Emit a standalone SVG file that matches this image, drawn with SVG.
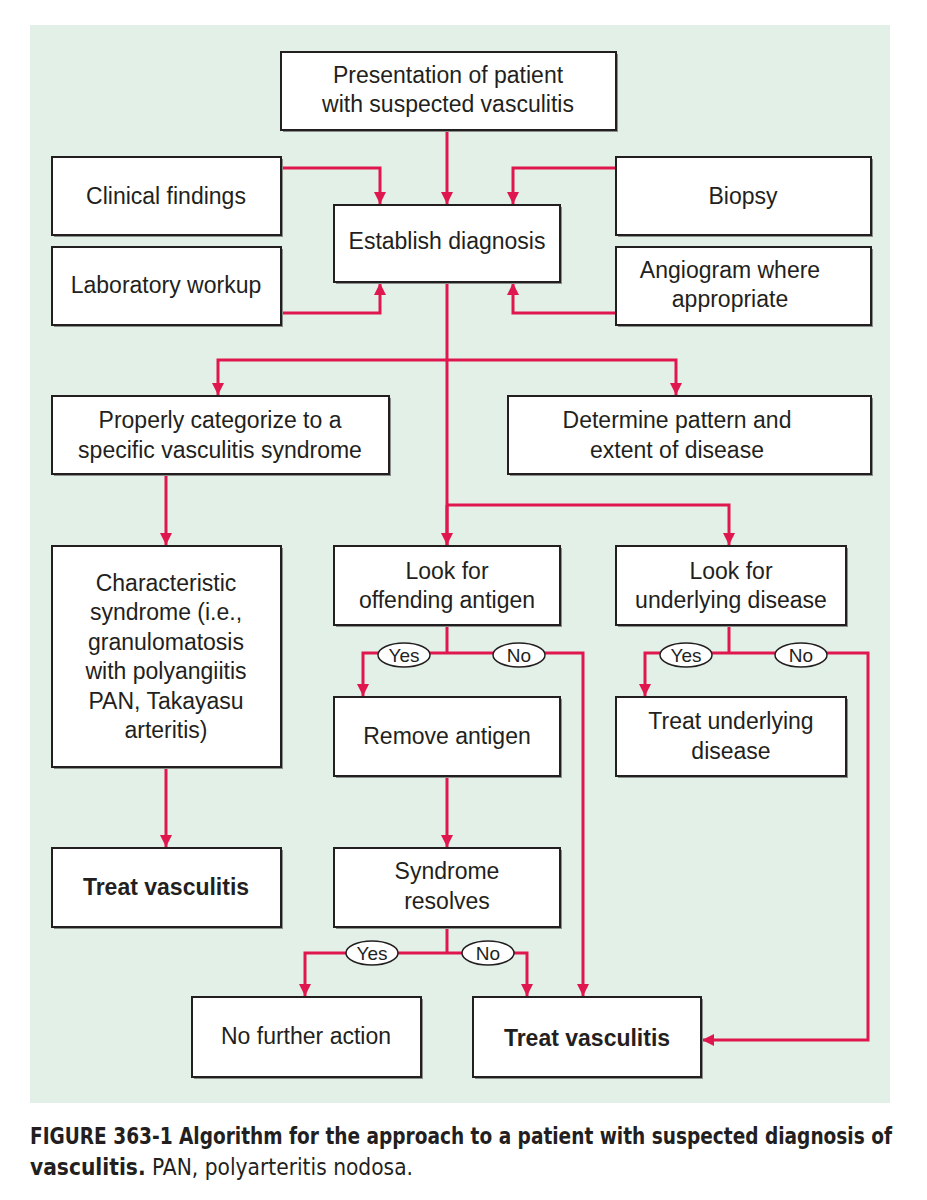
<svg xmlns="http://www.w3.org/2000/svg" width="927" height="1200" viewBox="0 0 927 1200">
<style>
.b{fill:#fff;stroke:#231f20;stroke-width:2}
.s{fill:#8a8f8c}
.t{font-family:"Liberation Sans",Arial,sans-serif;font-size:23px;fill:#231f20;text-anchor:middle}
.bd{font-weight:bold}
.c{fill:none;stroke:#e0174f;stroke-width:3}
.o{fill:#fff;stroke:#231f20;stroke-width:1.5}
.ot{font-family:"Liberation Sans",Arial,sans-serif;font-size:19px;fill:#231f20;text-anchor:middle}
.cap{font-family:"DejaVu Sans Condensed","Liberation Sans",sans-serif;font-size:23px;fill:#231f20}
</style>
<defs><marker id="a" viewBox="0 0 10 10" refX="10" refY="5" markerWidth="4" markerHeight="4" markerUnits="strokeWidth" orient="auto"><path d="M0,0L10,5L0,10z" fill="#e0174f"/></marker></defs>
<rect width="927" height="1200" fill="#fff"/>
<rect x="30" y="25" width="860" height="1078" fill="#e2f0e7"/>
<g id="connectors">
<path class="c" marker-end="url(#a)" d="M447,130V204"/>
<path class="c" marker-end="url(#a)" d="M281,168H380V204"/>
<path class="c" marker-end="url(#a)" d="M616,168H513V204"/>
<path class="c" marker-end="url(#a)" d="M281,313H380V283"/>
<path class="c" marker-end="url(#a)" d="M616,313H513V283"/>
<path class="c" d="M447,282V546"/>
<path class="c" marker-end="url(#a)" d="M447,360H218V395"/>
<path class="c" marker-end="url(#a)" d="M447,360H676V395"/>
<path class="c" marker-end="url(#a)" d="M447,505H729V545"/>
<path class="c" marker-end="url(#a)" d="M447,505V545"/>
<path class="c" marker-end="url(#a)" d="M166,474V545"/>
<path class="c" marker-end="url(#a)" d="M166,767V847"/>
<path class="c" d="M447,625V653"/>
<path class="c" marker-end="url(#a)" d="M447,653H363V696"/>
<path class="c" marker-end="url(#a)" d="M447,653H583V996"/>
<path class="c" d="M729,625V653"/>
<path class="c" marker-end="url(#a)" d="M729,653H645V696"/>
<path class="c" marker-end="url(#a)" d="M729,653H868V1040H702"/>
<path class="c" marker-end="url(#a)" d="M447,776V847"/>
<path class="c" d="M447,927V953"/>
<path class="c" marker-end="url(#a)" d="M447,953H305V996"/>
<path class="c" marker-end="url(#a)" d="M447,953H527V996"/>
<ellipse class="o" cx="404" cy="655" rx="26" ry="12"/><text class="ot" x="404" y="662">Yes</text>
<ellipse class="o" cx="519" cy="655" rx="26" ry="12"/><text class="ot" x="519" y="662">No</text>
<ellipse class="o" cx="686" cy="655" rx="26" ry="12"/><text class="ot" x="686" y="662">Yes</text>
<ellipse class="o" cx="801" cy="655" rx="26" ry="12"/><text class="ot" x="801" y="662">No</text>
<ellipse class="o" cx="372" cy="953" rx="26" ry="12"/><text class="ot" x="372" y="960">Yes</text>
<ellipse class="o" cx="488" cy="953" rx="26" ry="12"/><text class="ot" x="488" y="960">No</text>
</g>
<g id="n1"><rect class="s" x="283" y="54" width="335" height="78"/><rect class="b" x="281" y="52" width="335" height="78"/><text class="t" x="448" y="83">Presentation of patient</text><text class="t" x="448" y="112">with suspected vasculitis</text></g>
<g id="n2"><rect class="s" x="54" y="159" width="229" height="78"/><rect class="b" x="52" y="157" width="229" height="78"/><text class="t" x="166" y="204">Clinical findings</text></g>
<g id="n3"><rect class="s" x="336" y="207" width="226" height="77"/><rect class="b" x="334" y="205" width="226" height="77"/><text class="t" x="447" y="249">Establish diagnosis</text></g>
<g id="n4"><rect class="s" x="618" y="159" width="255" height="78"/><rect class="b" x="616" y="157" width="255" height="78"/><text class="t" x="743" y="204">Biopsy</text></g>
<g id="n5"><rect class="s" x="54" y="249" width="229" height="78"/><rect class="b" x="52" y="247" width="229" height="78"/><text class="t" x="166" y="293">Laboratory workup</text></g>
<g id="n6"><rect class="s" x="618" y="249" width="255" height="78"/><rect class="b" x="616" y="247" width="255" height="78"/><text class="t" x="730" y="278">Angiogram where</text><text class="t" x="730" y="307">appropriate</text></g>
<g id="n7"><rect class="s" x="54" y="398" width="337" height="78"/><rect class="b" x="52" y="396" width="337" height="78"/><text class="t" x="220" y="428">Properly categorize to a</text><text class="t" x="220" y="458">specific vasculitis syndrome</text></g>
<g id="n8"><rect class="s" x="510" y="398" width="363" height="78"/><rect class="b" x="508" y="396" width="363" height="78"/><text class="t" x="677" y="428">Determine pattern and</text><text class="t" x="677" y="458">extent of disease</text></g>
<g id="n9"><rect class="s" x="54" y="548" width="229" height="221"/><rect class="b" x="52" y="546" width="229" height="221"/><text class="t" x="166" y="591">Characteristic</text><text class="t" x="166" y="620">syndrome (i.e.,</text><text class="t" x="166" y="650">granulomatosis</text><text class="t" x="166" y="679">with polyangiitis</text><text class="t" x="166" y="709">PAN, Takayasu</text><text class="t" x="166" y="738">arteritis)</text></g>
<g id="n10"><rect class="s" x="336" y="548" width="226" height="79"/><rect class="b" x="334" y="546" width="226" height="79"/><text class="t" x="447" y="579">Look for</text><text class="t" x="447" y="608">offending antigen</text></g>
<g id="n11"><rect class="s" x="618" y="548" width="230" height="79"/><rect class="b" x="616" y="546" width="230" height="79"/><text class="t" x="731" y="579">Look for</text><text class="t" x="731" y="608">underlying disease</text></g>
<g id="n12"><rect class="s" x="336" y="699" width="226" height="79"/><rect class="b" x="334" y="697" width="226" height="79"/><text class="t" x="447" y="744">Remove antigen</text></g>
<g id="n13"><rect class="s" x="618" y="699" width="230" height="79"/><rect class="b" x="616" y="697" width="230" height="79"/><text class="t" x="731" y="729">Treat underlying</text><text class="t" x="731" y="759">disease</text></g>
<g id="n14"><rect class="s" x="54" y="850" width="229" height="79"/><rect class="b" x="52" y="848" width="229" height="79"/><text class="t bd" x="166" y="895">Treat vasculitis</text></g>
<g id="n15"><rect class="s" x="336" y="850" width="226" height="79"/><rect class="b" x="334" y="848" width="226" height="79"/><text class="t" x="447" y="879">Syndrome</text><text class="t" x="447" y="909">resolves</text></g>
<g id="n16"><rect class="s" x="194" y="999" width="229" height="80"/><rect class="b" x="192" y="997" width="229" height="80"/><text class="t" x="306" y="1044">No further action</text></g>
<g id="n17"><rect class="s" x="475" y="999" width="228" height="80"/><rect class="b" x="473" y="997" width="228" height="80"/><text class="t bd" x="587" y="1046">Treat vasculitis</text></g>
<text class="cap" font-weight="bold" x="30" y="1144" textLength="862" lengthAdjust="spacingAndGlyphs">FIGURE 363-1  Algorithm for the approach to a patient with suspected diagnosis of</text>
<text class="cap" x="30" y="1175" textLength="383" lengthAdjust="spacingAndGlyphs"><tspan font-weight="bold">vasculitis.</tspan> PAN, polyarteritis nodosa.</text>
</svg>
